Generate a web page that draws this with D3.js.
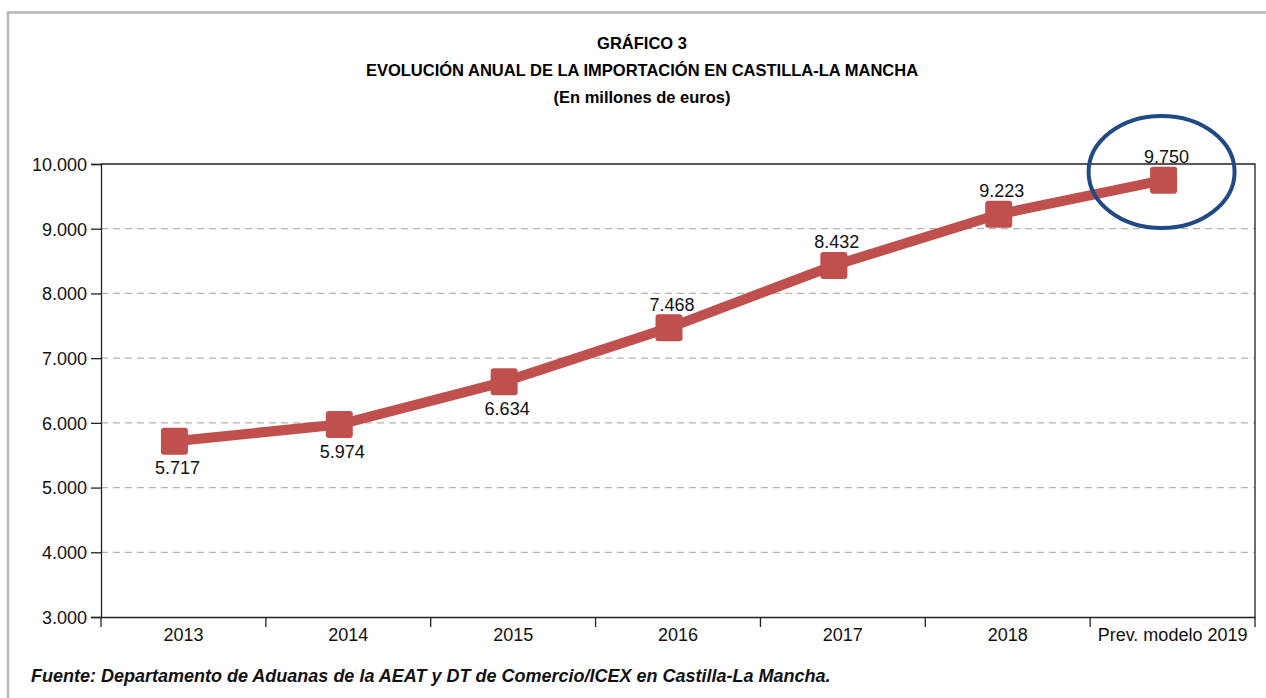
<!DOCTYPE html>
<meta charset="utf-8">
<style>
  body { margin: 0; background: #fff; }
  text { font-family: "Liberation Sans", Arial, Helvetica, sans-serif; }
</style>
<body>
<script src="https://d3js.org/d3.v7.min.js"></script>
<script>

// Data
const categories = ["2013", "2014", "2015", "2016", "2017", "2018", "Prev. modelo 2019"];
const imports = [5717, 5974, 6634, 7468, 8432, 9223, 9750];
const labelBelow = [true, true, true, false, false, false, false];
const yTicks = [3000, 4000, 5000, 6000, 7000, 8000, 9000, 10000];
const titleLines = ["GRÁFICO 3", "EVOLUCIÓN ANUAL DE LA IMPORTACIÓN EN CASTILLA-LA MANCHA", "(En millones de euros)"];
const source = "Fuente: Departamento de Aduanas de la AEAT y DT de Comercio/ICEX en Castilla-La Mancha.";

const W = 1266, H = 698;
const plot = {left: 101, right: 1255, top: 164, bottom: 617};
const red = "#c0504d";

const svg = d3.select("body").append("svg")
    .attr("width", W)
    .attr("height", H);

// outer grey frame
svg.append("rect")
    .attr("x", 8).attr("y", 12.5)
    .attr("width", W + 10).attr("height", H + 10)
    .attr("fill", "none")
    .attr("stroke", "#b8b8b8")
    .attr("stroke-width", 2.5);

// titles
svg.selectAll(".title").data(titleLines).enter()
  .append("text")
    .attr("x", 642)
    .attr("y", (d, i) => 49 + i * 27)
    .attr("text-anchor", "middle")
    .style("font-weight", "bold")
    .style("font-size", "16.5px")
    .text(d => d);

const x = d3.scaleBand()
    .domain(categories)
    .range([plot.left, plot.right]);

const y = d3.scaleLinear()
    .domain([3000, 10000])
    .range([plot.bottom, plot.top]);

// markers sit a little left of the band centre in the original
const px = d => x(d) + x.bandwidth() / 2 - 9;

// gridlines
svg.append("g")
  .selectAll("line").data(yTicks.filter(t => t > 3000 && t < 10000)).enter()
  .append("line")
    .attr("x1", plot.left).attr("x2", plot.right)
    .attr("y1", d => y(d)).attr("y2", d => y(d))
    .attr("stroke", "#b4b4b4")
    .attr("stroke-width", 1.3)
    .attr("stroke-dasharray", "7,5");

// top and right frame
svg.append("path")
    .attr("d", `M${plot.left},${y(10000)}H${plot.right}V${plot.bottom}`)
    .attr("fill", "none")
    .attr("stroke", "#222")
    .attr("stroke-width", 1.3);

// y axis
const yAxis = svg.append("g")
    .attr("transform", `translate(${plot.left},0)`)
    .call(d3.axisLeft(y)
        .tickValues(yTicks)
        .tickSize(10)
        .tickPadding(4)
        .tickFormat(d => d3.format(",")(d).replace(/,/g, ".")));

// x axis: ticks on band boundaries
const xAxis = svg.append("g")
    .attr("transform", `translate(0,${plot.bottom})`)
    .call(d3.axisBottom(x).tickSize(0).tickPadding(11));

xAxis.selectAll(".bound")
    .data(categories.map(c => x(c)).concat([plot.right])).enter()
  .append("line")
    .attr("x1", d => d).attr("x2", d => d)
    .attr("y1", 0).attr("y2", 10)
    .attr("stroke", "#222")
    .attr("stroke-width", 1.3);

[yAxis, xAxis].forEach(a => {
  a.select(".domain").attr("stroke", "#222").attr("stroke-width", 1.3);
  a.selectAll(".tick line").attr("stroke", "#222").attr("stroke-width", 1.3);
  a.selectAll("text")
    .style("font-family", "'Liberation Sans', Arial, sans-serif")
    .style("font-size", "18px")
    .attr("fill", "#111");
});
yAxis.selectAll("text").attr("dy", "0.35em");

// series line
const line = d3.line()
    .x((d, i) => px(categories[i]))
    .y(d => y(d));

svg.append("path")
    .datum(imports)
    .attr("d", line)
    .attr("fill", "none")
    .attr("stroke", red)
    .attr("stroke-width", 10);

// markers
const ms = 27;
svg.selectAll(".marker").data(imports).enter()
  .append("rect")
    .attr("x", (d, i) => px(categories[i]) - ms / 2)
    .attr("y", d => y(d) - ms / 2)
    .attr("width", ms).attr("height", ms)
    .attr("rx", 3)
    .attr("fill", red);

// data labels
svg.selectAll(".lbl").data(imports).enter()
  .append("text")
    .attr("x", (d, i) => px(categories[i]) + 3)
    .attr("y", (d, i) => y(d) + (labelBelow[i] ? 33 : -17))
    .attr("text-anchor", "middle")
    .style("font-size", "18px")
    .attr("fill", "#111")
    .text(d => d3.format(",")(d).replace(/,/g, "."));

// highlight ellipse around the forecast
svg.append("ellipse")
    .attr("cx", px(categories[6]) - 2)
    .attr("cy", 172)
    .attr("rx", 73)
    .attr("ry", 56)
    .attr("fill", "none")
    .attr("stroke", "#1f4a86")
    .attr("stroke-width", 4);

// source
svg.append("text")
    .attr("x", 31)
    .attr("y", 682)
    .style("font-weight", "bold")
    .style("font-style", "italic")
    .style("font-size", "18px")
    .attr("fill", "#111")
    .text(source);

</script>
</body>
